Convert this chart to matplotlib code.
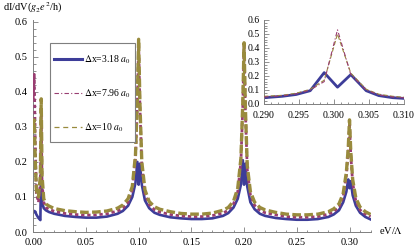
import matplotlib
matplotlib.use("Agg")
import matplotlib.pyplot as plt
from matplotlib.lines import Line2D
from matplotlib.patches import Rectangle
from matplotlib.ticker import MultipleLocator, FormatStrFormatter

plt.rcParams['font.family'] = ['Liberation Serif', 'DejaVu Serif']
plt.rcParams['mathtext.fontset'] = 'stix'

# ---- data ----
x_main = [0.000, 0.001, 0.002, 0.003, 0.005, 0.0068, 0.0076, 0.0084, 0.010, 0.012,
          0.015, 0.020, 0.030, 0.040, 0.050, 0.060, 0.070, 0.080, 0.085, 0.090,
          0.094, 0.097, 0.0988, 0.100, 0.1012, 0.103, 0.106, 0.110, 0.115, 0.120,
          0.130, 0.140, 0.150, 0.160, 0.170, 0.180, 0.185, 0.190, 0.194, 0.197,
          0.1988, 0.200, 0.2012, 0.203, 0.206, 0.210, 0.215, 0.220, 0.230, 0.240,
          0.250, 0.260, 0.270, 0.280, 0.285, 0.290, 0.294, 0.297, 0.2988, 0.300,
          0.3012, 0.303, 0.306, 0.310, 0.315, 0.320]

blue_main = [0.055, 0.060, 0.058, 0.050, 0.040, 0.034, 0.200, 0.085, 0.068, 0.062,
             0.057, 0.052, 0.046, 0.043, 0.041, 0.041, 0.044, 0.052, 0.060, 0.075,
             0.100, 0.140, 0.200, 0.135, 0.195, 0.135, 0.090, 0.068, 0.055, 0.049,
             0.042, 0.039, 0.037, 0.037, 0.039, 0.046, 0.054, 0.070, 0.095, 0.135,
             0.205, 0.135, 0.195, 0.130, 0.085, 0.065, 0.052, 0.046, 0.040, 0.037,
             0.035, 0.035, 0.037, 0.043, 0.050, 0.062, 0.085, 0.115, 0.150, 0.125,
             0.145, 0.105, 0.075, 0.055, 0.043, 0.036]

pink_main = [0.380, 0.450, 0.250, 0.110, 0.085, 0.140, 0.330, 0.140, 0.085, 0.070,
             0.065, 0.059, 0.053, 0.050, 0.048, 0.049, 0.052, 0.060, 0.068, 0.085,
             0.120, 0.210, 0.370, 0.540, 0.360, 0.190, 0.110, 0.078, 0.064, 0.057,
             0.050, 0.046, 0.044, 0.044, 0.047, 0.054, 0.062, 0.080, 0.115, 0.200,
             0.360, 0.530, 0.350, 0.180, 0.105, 0.076, 0.062, 0.055, 0.049, 0.044,
             0.042, 0.042, 0.044, 0.051, 0.058, 0.072, 0.100, 0.160, 0.230, 0.310,
             0.220, 0.140, 0.088, 0.063, 0.051, 0.044]

tan_main = [0.300, 0.320, 0.200, 0.120, 0.100, 0.160, 0.380, 0.160, 0.095, 0.080,
            0.074, 0.067, 0.061, 0.058, 0.056, 0.057, 0.060, 0.068, 0.077, 0.095,
            0.130, 0.220, 0.380, 0.550, 0.370, 0.200, 0.120, 0.087, 0.072, 0.065,
            0.058, 0.053, 0.051, 0.051, 0.054, 0.062, 0.070, 0.088, 0.125, 0.210,
            0.370, 0.540, 0.360, 0.190, 0.115, 0.085, 0.070, 0.063, 0.056, 0.051,
            0.049, 0.049, 0.051, 0.058, 0.066, 0.080, 0.110, 0.170, 0.240, 0.320,
            0.230, 0.150, 0.097, 0.071, 0.058, 0.050]

x_inset = [0.2900, 0.2926, 0.2946, 0.2966, 0.2986, 0.3005, 0.3024, 0.3046, 0.3064, 0.3084, 0.3100]
blue_inset = [0.045, 0.055, 0.068, 0.095, 0.224, 0.120, 0.210, 0.095, 0.060, 0.045, 0.040]
pink_inset = [0.050, 0.058, 0.072, 0.100, 0.160, 0.530, 0.210, 0.100, 0.065, 0.050, 0.044]
tan_inset = [0.055, 0.062, 0.077, 0.105, 0.170, 0.500, 0.220, 0.105, 0.070, 0.055, 0.048]

labels = [r'$\Delta$x=3.18 $a_0$', r'$\Delta$x=7.96 $a_0$', r'$\Delta$x=10 $a_0$']

BLUE = '#3d3d99'
PINK = '#993d71'
TAN = '#998b3d'
AXIS_GRAY = '#7f7f7f'
W, H = 415, 250


def style_axes(ax, fs, xpad, ypad):
    for side in ('top', 'right'):
        ax.spines[side].set_visible(False)
    for side in ('left', 'bottom'):
        ax.spines[side].set_color(AXIS_GRAY)
        ax.spines[side].set_linewidth(0.7)
    ax.tick_params(which='both', direction='in', color=AXIS_GRAY, width=0.6,
                   labelsize=fs)
    ax.tick_params(axis='x', pad=xpad)
    ax.tick_params(axis='y', pad=ypad)
    ax.tick_params(which='major', length=3.5)
    ax.tick_params(which='minor', length=1.8)


fig = plt.figure(figsize=(4.15, 2.5), dpi=100)

# main plot
ax = fig.add_axes([0.080, 0.072, 0.813, 0.848])
ax.plot(x_main, blue_main, color=BLUE, lw=1.9, zorder=2)
ax.plot(x_main, pink_main, color=PINK, lw=2.0, dashes=(1.2, 1.0), zorder=3)
ax.plot(x_main, tan_main, color=TAN, lw=2.4, dashes=(2.6, 1.0), zorder=4)
ax.set_xlim(0, 0.32)
ax.set_ylim(0, 0.605)
ax.xaxis.set_major_locator(MultipleLocator(0.05))
ax.xaxis.set_minor_locator(MultipleLocator(0.01))
ax.yaxis.set_major_locator(MultipleLocator(0.1))
ax.yaxis.set_minor_locator(MultipleLocator(0.02))
ax.xaxis.set_major_formatter(FormatStrFormatter('%.2f'))
ax.yaxis.set_major_formatter(FormatStrFormatter('%.1f'))
style_axes(ax, 7.5, 4, 4)

fig.text(0.008, 0.968, r'dI/dV($g_2e^2$/h)', fontsize=7.5, ha='left', va='center')
fig.text(0.942, 0.078, r'eV/$\Lambda$', fontsize=7.5, ha='center', va='center')

# legend box drawn as a plain frame, entries placed inside it
fig.patches.append(Rectangle((50 / W, 1 - 142 / H), 85 / W, 99 / H,
                             transform=fig.transFigure, fill=True, facecolor='white',
                             edgecolor=AXIS_GRAY, lw=0.8, zorder=5))
handles = [Line2D([], [], color=BLUE, lw=2.2),
           Line2D([], [], color=PINK, lw=0.8, dashes=(4, 2, 1, 2)),
           Line2D([], [], color=TAN, lw=0.9, dashes=(4, 3))]
leg = fig.legend(handles, labels, loc='upper left', bbox_to_anchor=(54 / W, 1 - 53 / H),
                 fontsize=7, frameon=False, handlelength=2.9, handletextpad=0.15,
                 labelspacing=2.25, borderpad=0, borderaxespad=0)
leg.set_zorder(6)

# inset
axi = fig.add_axes([264 / W, 1 - 104 / H, 140 / W, 84 / H])
axi.plot(x_inset, blue_inset, color=BLUE, lw=2.0, zorder=2)
axi.plot(x_inset, tan_inset, color=TAN, lw=0.8, dashes=(4, 2), zorder=3)
axi.plot(x_inset, pink_inset, color=PINK, lw=0.8, dashes=(4, 2, 1, 2), zorder=4)
axi.set_xlim(0.290, 0.310)
axi.set_ylim(0, 0.6)
axi.xaxis.set_major_locator(MultipleLocator(0.005))
axi.xaxis.set_minor_locator(MultipleLocator(0.001))
axi.yaxis.set_major_locator(MultipleLocator(0.1))
axi.yaxis.set_minor_locator(MultipleLocator(0.02))
axi.xaxis.set_major_formatter(FormatStrFormatter('%.3f'))
axi.yaxis.set_major_formatter(FormatStrFormatter('%.1f'))
style_axes(axi, 7, 5, 3)

fig.savefig('out.png', dpi=100)
